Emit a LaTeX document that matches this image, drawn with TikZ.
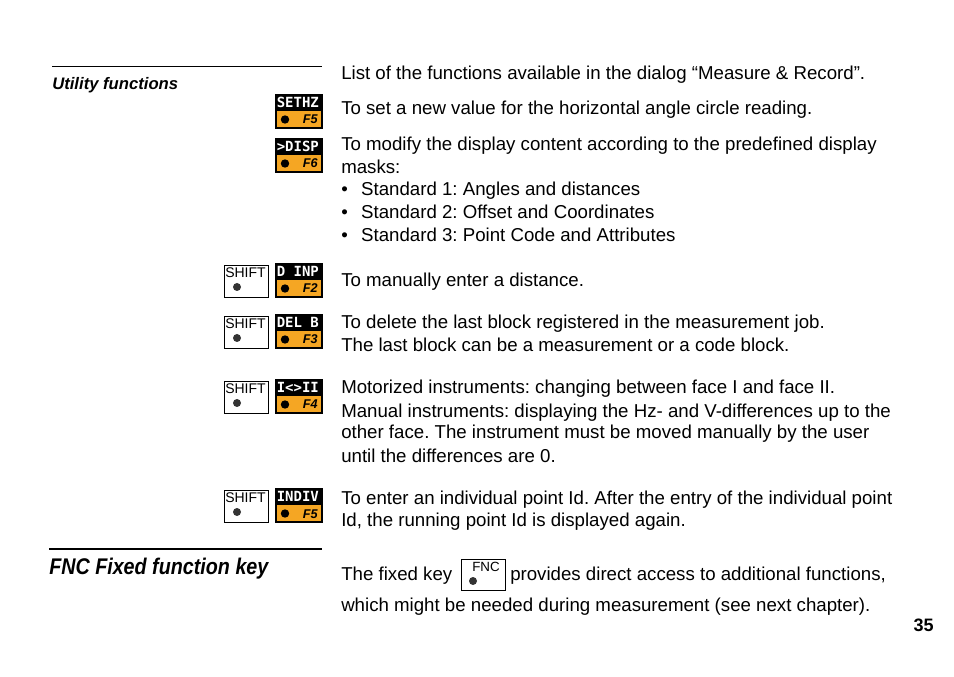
\documentclass[tikz,border=0pt]{standalone}
\usepackage{fontspec}
\setmainfont{Liberation Sans}
\setmonofont{DejaVu Sans Mono}
\frenchspacing
\definecolor{korange}{HTML}{F5A623}
\tikzset{
 txt/.style={anchor=base west,inner sep=0pt,font=\fontsize{14}{16}\selectfont},
 head/.style={anchor=base west,inner sep=0pt,font=\bfseries\itshape},
}
\newcommand{\fkey}[4]{% name, x, ytop, label
 \fill[black] (#2,#3) rectangle (#2+46,#3+16);
 \fill[korange] (#2,#3+16) rectangle (#2+46,#3+33);
 \draw[black,line width=0.8pt] (#2,#3) rectangle (#2+46,#3+33);
 \node[anchor=base west,inner sep=0pt,text=white,font=\ttfamily\bfseries\fontsize{10.5}{12}\selectfont] (#1) at (#2+0.5,#3+12.5) {#4};
 \fill (#2+9,#3+24.5) circle (4.2);
}
\newcommand{\fkeyF}[3]{\node[anchor=base east,inner sep=0pt,font=\bfseries\itshape\fontsize{9.5}{11}\selectfont] at (#1+42,#2+29) {#3};}
\newcommand{\skey}[3]{% name x ytop
 \draw[line width=0.7pt] (#2,#3) rectangle (#2+44,#3+32);
 \node[anchor=base west,inner sep=0pt,font=\fontsize{10.5}{12}\selectfont] (#1) at (#2+1,#3+13) {SHIFT};
 \fill[black!80] (#2+13,#3+22) circle (4);
}
\begin{document}
\begin{tikzpicture}[x=0.75pt,y=-0.75pt]
\useasboundingbox (0,0) rectangle (954,677);
\draw[line width=0.6pt] (52,66) -- (322,66);
\node[head,font=\bfseries\itshape\fontsize{12.5}{15}\selectfont] (uf) at (52,90) {Utility functions};
\node[txt] (t0) at (341,80) {List of the functions available in the dialog “Measure \& Record”.};

\fkey{k1}{276}{95}{SETHZ}\fkeyF{276}{95}{F5}
\node[txt] (t1) at (341,115) {To set a new value for the horizontal angle circle reading.};

\fkey{k2}{276}{139}{>DISP}\fkeyF{276}{139}{F6}
\node[txt] (t2) at (341,151) {To modify the display content according to the predefined display};
\node[txt] at (341,174) {masks:};
\node[txt] at (341,196) {•\hspace{10pt}Standard 1: Angles and distances};
\node[txt] at (341,219) {•\hspace{10pt}Standard 2: Offset and Coordinates};
\node[txt] at (341,242) {•\hspace{10pt}Standard 3: Point Code and Attributes};

\skey{s3}{224}{265}\fkey{k3}{276}{264}{D INP}\fkeyF{276}{264}{F2}
\node[txt] (t3) at (341,287) {To manually enter a distance.};

\skey{s4}{224}{316}\fkey{k4}{276}{315}{DEL B}\fkeyF{276}{315}{F3}
\node[txt] at (341,329) {To delete the last block registered in the measurement job.};
\node[txt] at (341,352) {The last block can be a measurement or a code block.};

\skey{s5}{224}{381}\fkey{k5}{276}{380}{I<>II}\fkeyF{276}{380}{F4}
\node[txt] at (341,394) {Motorized instruments: changing between face I and face II.};
\node[txt] at (341,417) {Manual instruments: displaying the Hz- and V-differences up to the};
\node[txt] at (341,439) {other face. The instrument must be moved manually by the user};
\node[txt] at (341,462) {until the differences are 0.};

\skey{s6}{224}{490}\fkey{k6}{276}{489}{INDIV}\fkeyF{276}{489}{F5}
\node[txt] at (341,504) {To enter an individual point Id. After the entry of the individual point};
\node[txt] at (341,527) {Id, the running point Id is displayed again.};

\draw[line width=0.8pt] (49,549) -- (322,549);
\node[head,font=\bfseries\itshape\fontsize{17}{20}\selectfont] (fnc) at (49,574) {\scalebox{0.87}[1]{FNC Fixed function key}};
\node[txt] at (341,580) {The fixed key};
\draw[line width=0.7pt] (461,559) rectangle (505,590);
\node[anchor=base west,inner sep=0pt,font=\fontsize{10}{11}\selectfont] at (472,571) {FNC};
\fill[black!80] (473,581) circle (4);
\node[txt] at (510,580) {provides direct access to additional functions,};
\node[txt] at (341,611) {which might be needed during measurement (see next chapter).};
\node[anchor=base east,inner sep=0pt,font=\bfseries\fontsize{13.5}{16}\selectfont] at (934,631) {35};
\end{tikzpicture}
\end{document}
